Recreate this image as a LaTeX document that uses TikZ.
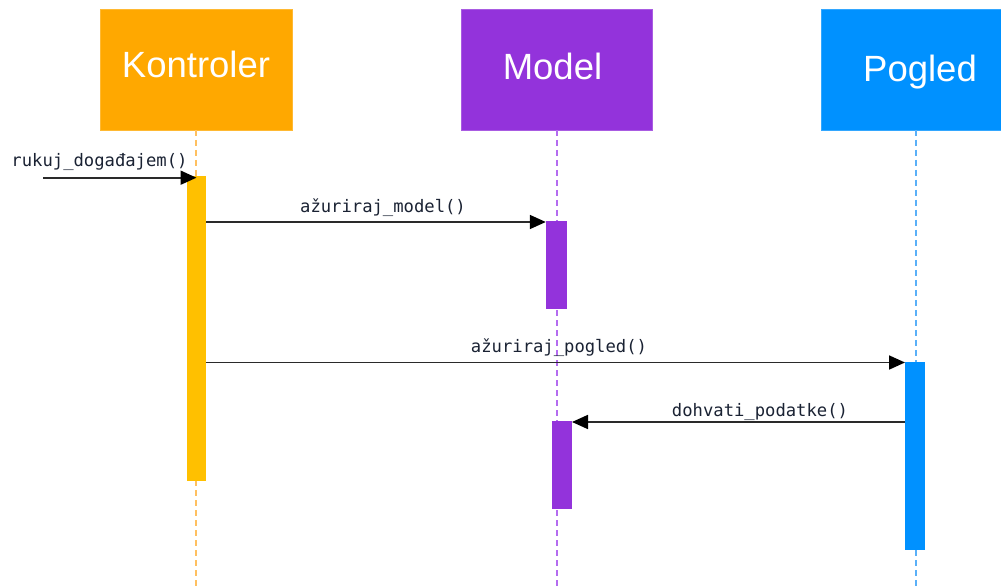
\documentclass[tikz,border=0pt]{standalone}
\usepackage{fontspec}
\setmainfont{Liberation Sans}
\newfontfamily\msgfont{DejaVu Sans Mono}
\usetikzlibrary{arrows.meta,calc}
\definecolor{kcol}{HTML}{FFA800}
\definecolor{kbarcol}{HTML}{FFC000}
\definecolor{klinecol}{HTML}{FFC060}
\definecolor{mcol}{HTML}{9333DB}
\definecolor{mlinecol}{HTML}{B46CF0}
\definecolor{pcol}{HTML}{0091FF}
\definecolor{plinecol}{HTML}{5AB0F8}
\definecolor{msgcol}{HTML}{2A2A2A}
\definecolor{msgtext}{HTML}{1A2233}
\begin{document}
\begin{tikzpicture}[x=1pt,y=-1pt,
  actorbox/.style={draw=#1!80!white,line width=0.6pt,fill=#1,minimum width=192pt,minimum height=121pt,inner sep=0pt,outer sep=0pt},
  actorlabel/.style={text=white,font=\fontsize{36.5}{40}\selectfont,anchor=base,inner sep=0pt},
  actbar/.style={fill=#1,draw=none,inner sep=0pt,outer sep=0pt},
  lifeline/.style={draw=#1,line width=1.3pt,dash pattern=on 6pt off 4pt},
  msg/.style={draw=msgcol,line width=1.8pt,-{Triangle[length=16pt,width=14pt,fill=black,color=black]}},
  msglabel/.style={font=\msgfont\fontsize{17.2}{20}\selectfont,text=msgtext,anchor=base,inner sep=0pt}]
\useasboundingbox (0,0) rectangle (1001,588);
\clip (0,0) rectangle (1001,588);
\fill[white] (0,0) rectangle (1001,588);

% actor boxes
\node[actorbox=kcol] (kbox) at (196,69.5) {};
\node[actorbox=mcol,minimum width=191pt] (mbox) at (556.5,69.5) {};
\node[actorbox=pcol] (pbox) at (917,69.5) {};
\node[actorlabel] (klab) at (196,77.5) {Kontroler};
\node[actorlabel] (mlab) at (552.5,80) {Model};
\node[actorlabel] (plab) at (920,82) {Pogled};

% lifelines
\coordinate (kend) at (196,588);
\coordinate (mend) at (557,588);
\coordinate (pend) at (916,588);
\draw[lifeline=klinecol] (kbox.south -| kend) -- (kend);
\draw[lifeline=mlinecol] (mbox.south -| mend) -- (mend);
\draw[lifeline=plinecol] (pbox.south -| pend) -- (pend);

% activation bars
\node[actbar=kbarcol,minimum width=19pt,minimum height=305pt] (kbar) at (196.5,328.5) {};
\node[actbar=mcol,minimum width=21pt,minimum height=88pt] (mbar1) at (556.3,265) {};
\node[actbar=mcol,minimum width=20pt,minimum height=88pt] (mbar2) at (562,465) {};
\node[actbar=pcol,minimum width=20pt,minimum height=188pt] (pbar) at (915,456) {};

% messages
\coordinate (start) at (43,177.7);
\draw[msg] (start) -- (start -| kbar.north);
\node[msglabel] (l1) at (99.5,167) {rukuj\_događajem()};

\draw[msg] ($(kbar.east |- mbar1.north)+(0,1)$) -- ($(mbar1.north west)+(0,1)$);
\node[msglabel] (l2) at (383,212) {ažuriraj\_model()};

\draw[msg] ($(kbar.east |- pbar.north)+(0,0.5)$) -- ($(pbar.north west)+(0,0.5)$);
\node[msglabel] (l3) at (559,352.5) {ažuriraj\_pogled()};

\draw[msg] ($(pbar.west |- mbar2.north)+(0,1)$) -- ($(mbar2.north east)+(0,1)$);
\node[msglabel] (l4) at (760,416) {dohvati\_podatke()};
\end{tikzpicture}
\end{document}
